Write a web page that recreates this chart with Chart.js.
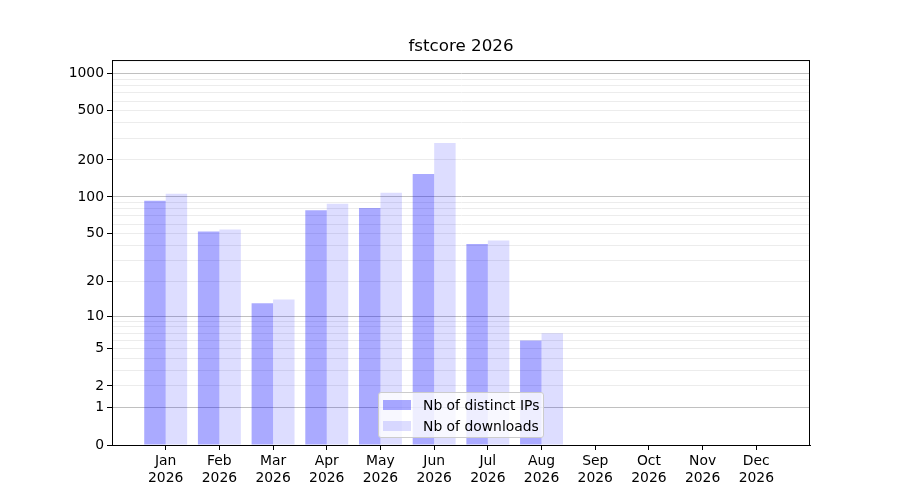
<!DOCTYPE html>
<html>
<head>
<meta charset="utf-8">
<script src="https://cdn.jsdelivr.net/npm/chart.js@4/dist/chart.umd.min.js"></script>
<style>
    body { margin: 0; background: #fff; }
    .chart-box { position: relative; width: 900px; height: 500px; }
    .legend {
        position: absolute;
        left: 378px;
        top: 392px;
        width: 164px;
        height: 44px;
        background: rgba(255, 255, 255, 0.8);
        border: 1px solid #cccccc;
        border-radius: 3px;
        font-family: "DejaVu Sans", sans-serif;
        font-size: 13.9px;
        color: #000;
    }
    .legend-item { position: absolute; left: 4px; height: 20px; line-height: 20px; white-space: nowrap; }
    .legend-swatch { position: absolute; left: 0; top: 5px; width: 28px; height: 10px; }
    .legend-label { position: absolute; left: 40px; top: 0; }
</style>
</head>
<body>
<div class="chart-box">
    <canvas id="stats-chart" width="900" height="500"></canvas>
    <div class="legend" id="legend"></div>
</div>
<script>
const CHART_TITLE = "fstcore 2026";
const months = ["Jan", "Feb", "Mar", "Apr", "May", "Jun", "Jul", "Aug", "Sep", "Oct", "Nov", "Dec"];
const yearLabel = "2026";
const distinctIPs = [93, 52, 13, 78, 81, 154, 41, 6];
const downloads = [106, 54, 14, 88, 108, 274, 44, 7];
const seriesNames = ["Nb of distinct IPs", "Nb of downloads"];
const seriesColors = ["rgba(0, 0, 255, 0.333)", "rgba(0, 0, 255, 0.135)"];
const yTickLabels = [0, 1, 2, 5, 10, 20, 50, 100, 200, 500, 1000];
const yMajorGrid = [1, 10, 100, 1000];
const Y_MAX = 1288;

//grid lines at every 1..9 step of each decade, like a log axis
const yGridValues = [0];
for (let decade = 1; decade <= 100; decade *= 10) {
    for (let k = 1; k < 10; k++) {
        yGridValues.push(k * decade);
    }
}
yGridValues.push(1000);

//y = log10(1 + v), so zero can sit on the axis
class Log1pScale extends Chart.LinearScale {
    static id = 'log1p';
    static defaults = Chart.LinearScale.defaults;

    configure() {
        super.configure();
        this._startT = Math.log10(1 + this.min);
        this._rangeT = Math.log10(1 + this.max) - this._startT;
    }

    getPixelForValue(value) {
        if (value === undefined || value === null || isNaN(value)) {
            return NaN;
        }
        return this.getPixelForDecimal((Math.log10(1 + value) - this._startT) / this._rangeT);
    }

    getValueForPixel(pixel) {
        const decimal = this.getDecimalForPixel(pixel);
        return Math.pow(10, this._startT + decimal * this._rangeT) - 1;
    }
}
Chart.register(Log1pScale);

//draws the full box round the plot area
const frameBox = {
    id: 'frameBox',
    afterDraw(chart) {
        const { ctx, chartArea } = chart;
        ctx.save();
        ctx.strokeStyle = '#000';
        ctx.lineWidth = 1;
        ctx.strokeRect(chartArea.left + 0.5, chartArea.top + 0.5,
            chartArea.right - chartArea.left - 1, chartArea.bottom - chartArea.top);
        ctx.restore();
    }
};

const font = { family: "'DejaVu Sans', sans-serif", size: 13.9, lineHeight: 1.2 };

const ipPoints = distinctIPs.map((v, i) => ({ x: i, y: v }));
const downloadPoints = downloads.map((v, i) => ({ x: i, y: v }));

const ctx = document.getElementById('stats-chart').getContext('2d');
const statsChart = new Chart(ctx, {
    type: 'bar',
    data: {
        datasets: [{
            label: seriesNames[0],
            data: ipPoints,
            backgroundColor: seriesColors[0],
            borderWidth: 0,
            categoryPercentage: 0.8,
            barPercentage: 1.0
        }, {
            label: seriesNames[1],
            data: downloadPoints,
            backgroundColor: seriesColors[1],
            borderWidth: 0,
            categoryPercentage: 0.8,
            barPercentage: 1.0
        }]
    },
    options: {
        responsive: false,
        animation: false,
        devicePixelRatio: 1,
        layout: { padding: { left: 0, right: 90, top: 0, bottom: 0 } },
        scales: {
            x: {
                type: 'linear',
                min: -1,
                max: 12,
                offset: false,
                afterBuildTicks: scale => {
                    scale.ticks = months.map((m, i) => ({ value: i }));
                },
                afterFit: scale => { scale.height = 55; },
                ticks: {
                    autoSkip: false,
                    maxRotation: 0,
                    padding: 3,
                    color: '#000',
                    font: font,
                    callback: value => [months[value], yearLabel]
                },
                grid: {
                    offset: false,
                    drawOnChartArea: false,
                    tickLength: 5,
                    tickColor: '#000'
                },
                border: { color: '#000', width: 1 }
            },
            y: {
                type: 'log1p',
                min: 0,
                max: Y_MAX,
                afterBuildTicks: scale => {
                    scale.ticks = yGridValues.map(v => ({ value: v }));
                },
                afterFit: scale => { scale.width = 112; },
                ticks: {
                    autoSkip: false,
                    padding: 3,
                    color: '#000',
                    font: font,
                    callback: value => yTickLabels.includes(value) ? String(value) : ''
                },
                grid: {
                    tickLength: 5,
                    color: c => {
                        if (!c.tick || c.tick.value === 0) return 'rgba(0,0,0,0)';
                        return yMajorGrid.includes(c.tick.value) ? '#c0c0c0' : '#ececec';
                    },
                    tickColor: c => (c.tick && yTickLabels.includes(c.tick.value)) ? '#000' : 'rgba(0,0,0,0)'
                },
                border: { color: '#000', width: 1 }
            }
        },
        plugins: {
            legend: { display: false },
            tooltip: { enabled: false },
            title: {
                display: true,
                //only as wide as the plot area, so it centres over it
                fullSize: false,
                text: CHART_TITLE,
                color: '#000',
                font: { family: "'DejaVu Sans', sans-serif", size: 16.7, weight: 'normal', lineHeight: 1.2 },
                padding: { top: 37, bottom: 3 }
            }
        }
    },
    plugins: [frameBox]
});

//html legend, sits inside the plot like the original
const legend = document.getElementById('legend');
seriesNames.forEach((name, i) => {
    const item = document.createElement('div');
    item.classList.add('legend-item');
    item.style.top = (2 + i * 21) + 'px';
    item.innerHTML = `
        <span class="legend-swatch" style="background:${seriesColors[i]}"></span>
        <span class="legend-label">${name}</span>
    `;
    legend.appendChild(item);
});
</script>
</body>
</html>
